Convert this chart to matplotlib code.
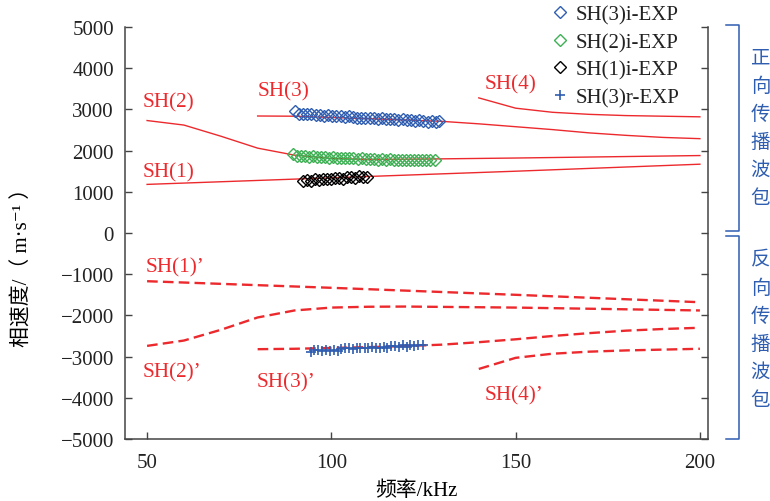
import matplotlib
matplotlib.use('Agg')
import matplotlib.pyplot as plt
import matplotlib.transforms as mtransforms

plt.rcParams['font.family'] = ['Liberation Serif', 'Noto Sans CJK SC', 'DejaVu Serif']
plt.rcParams['font.size'] = 15

# theoretical dispersion curves, forward (solid) and backward (dashed)
sh1_f = [50, 100, 150, 200]
sh1_v = [1180, 1340, 1500, 1670]
sh2_f = [50, 60, 70, 80, 90, 100, 110, 120, 150, 200]
sh2_v = [2730, 2620, 2350, 2060, 1890, 1810, 1785, 1790, 1820, 1880]
sh3_f = [80, 90, 100, 110, 120, 130, 140, 150, 160, 170, 180, 190, 200]
sh3_v = [2840, 2835, 2805, 2775, 2745, 2710, 2650, 2580, 2510, 2430, 2370, 2320, 2290]
sh4_f = [140, 150, 160, 170, 180, 190, 200]
sh4_v = [3280, 3030, 2930, 2880, 2850, 2835, 2820]

sh1b_f = [50, 100, 150, 200]
sh1b_v = [-1170, -1330, -1500, -1680]
sh2b_f = [50, 60, 70, 80, 90, 100, 110, 120, 150, 200]
sh2b_v = [-2740, -2610, -2350, -2050, -1880, -1810, -1790, -1785, -1810, -1880]
sh3b_f = [80, 90, 100, 110, 120, 130, 140, 150, 160, 170, 180, 190, 200]
sh3b_v = [-2820, -2810, -2790, -2770, -2745, -2710, -2650, -2580, -2500, -2430, -2370, -2330, -2300]
sh4b_f = [140, 150, 160, 170, 180, 190, 200]
sh4b_v = [-3300, -3030, -2930, -2880, -2850, -2830, -2810]

# experimental points
exp3i_f = [90, 91.2, 92.3, 93.5, 94.6, 95.7, 96.8, 98, 99.1, 100.2, 101.3, 102.5,
           103.6, 104.7, 105.8, 107, 108.1, 109.2, 110.4, 111.5, 112.6, 113.7, 114.9,
           116, 117.1, 118.2, 119.4, 120.5, 121.6, 122.7, 123.9, 125, 126.1, 127.2,
           128.4, 129.3]
exp3i_v = [2950, 2900, 2890, 2880, 2890, 2870, 2860, 2850, 2860, 2840, 2830, 2830,
           2820, 2830, 2810, 2800, 2800, 2790, 2800, 2780, 2770, 2780, 2760, 2770,
           2760, 2750, 2760, 2740, 2750, 2730, 2740, 2720, 2700, 2710, 2700, 2710]
exp2i_f = [89.5, 90.6, 91.7, 92.8, 93.9, 95, 96.1, 97.2, 98.3, 99.4, 100.5, 101.6,
           102.7, 103.8, 104.9, 106, 107.1, 108.2, 109.3, 110.4, 111.5, 112.6, 113.7,
           114.8, 115.9, 117, 118.1, 119.2, 120.3, 121.4, 122.5, 123.6, 124.7, 125.8,
           126.9, 128]
exp2i_v = [1920, 1870, 1860, 1870, 1850, 1860, 1850, 1840, 1850, 1830, 1840, 1820,
           1830, 1810, 1820, 1810, 1800, 1810, 1790, 1800, 1790, 1780, 1790, 1780,
           1790, 1770, 1780, 1780, 1770, 1780, 1770, 1780, 1770, 1760, 1770, 1770]
exp1i_f = [92.2, 93.3, 94.4, 95.5, 96.6, 97.7, 98.8, 99.9, 101, 102.1, 103.2, 104.3,
           105.4, 106.5, 107.6, 108.7, 109.8]
exp1i_v = [1260, 1280, 1270, 1300, 1290, 1310, 1320, 1300, 1330, 1340, 1320, 1350,
           1370, 1340, 1380, 1360, 1370]
exp3r_f = [94.4, 95.4, 96.5, 97.5, 98.6, 99.6, 100.6, 101.7, 102.7, 103.8, 104.8,
           105.8, 106.9, 107.9, 109, 110, 111, 112.1, 113.1, 114.2, 115.2, 116.2,
           117.3, 118.3, 119.4, 120.4, 121.4, 122.5, 123.5, 124.8]
exp3r_v = [-2880, -2850, -2830, -2860, -2830, -2870, -2840, -2870, -2820, -2800,
           -2790, -2810, -2780, -2800, -2790, -2790, -2770, -2800, -2790, -2760,
           -2780, -2740, -2750, -2760, -2730, -2770, -2720, -2740, -2710, -2720]

red = '#ec2a2e'
blue = '#2f5eb0'
green = '#3db054'

fig = plt.figure(figsize=(7.7, 5.02), dpi=100)
ax = fig.add_axes([0.1623, 0.1235, 0.7572, 0.8207])

for f, v in [(sh1_f, sh1_v), (sh2_f, sh2_v), (sh3_f, sh3_v), (sh4_f, sh4_v)]:
    ax.plot(f, v, color=red, lw=1.0)
for f, v in [(sh1b_f, sh1b_v), (sh2b_f, sh2b_v), (sh3b_f, sh3b_v), (sh4b_f, sh4b_v)]:
    ax.plot(f, v, color=red, lw=1.7, dashes=(4.5, 2.2))

ax.plot(exp3i_f, exp3i_v, 'D', ms=6.3, mfc='none', mec=blue, mew=1.0, label='SH(3)i-EXP')
ax.plot(exp2i_f, exp2i_v, 'D', ms=6.3, mfc='none', mec=green, mew=1.0, label='SH(2)i-EXP')
ax.plot(exp1i_f, exp1i_v, 'D', ms=6.3, mfc='none', mec='black', mew=1.0, label='SH(1)i-EXP')
ax.plot(exp3r_f, exp3r_v, '+', ms=7, mec=blue, mew=1.2, label='SH(3)r-EXP')

# curve names
labels = [('SH(2)', 48.9, 3180), ('SH(3)', 80, 3450), ('SH(1)', 48.9, 1480),
          ('SH(4)', 141.7, 3620), ('SH(1)’', 49.5, -820), ('SH(2)’', 48.9, -3380),
          ('SH(3)’', 79.6, -3610), ('SH(4)’', 141.7, -3940)]
for txt, x, y in labels:
    ax.text(x, y, txt, color=red, fontsize=15.3, ha='left', va='center')

ax.set_xlim(44, 202.2)
ax.set_ylim(-5000, 5000)
ax.set_xticks([50, 100, 150, 200])
ax.set_yticks(range(-5000, 5001, 1000))
ax.spines['top'].set_visible(False)
for s in ['left', 'right', 'bottom']:
    ax.spines[s].set_color('#444444')
    ax.spines[s].set_linewidth(1.1)
ax.tick_params(direction='in', length=5, width=1.0, color='#444444',
               left=True, right=True, labelsize=15, colors='#222222')
ax.tick_params(axis='x', pad=10)
ax.tick_params(axis='y', pad=8)
ax.set_xlabel('频率/kHz', fontsize=15, labelpad=6)
ax.set_ylabel('相速度/（ m·s⁻¹ ）', fontsize=15)
ax.yaxis.set_label_coords(-0.158, 0.43)

leg = ax.legend(loc='upper left', bbox_to_anchor=(0.736, 1.053), frameon=False,
                handlelength=0.6, handletextpad=0.45, labelspacing=0.38,
                borderaxespad=0, borderpad=0, fontsize=15)
for t in leg.get_texts():
    t.set_color('#222222')

# brackets for forward / backward wave packets
trans = mtransforms.blended_transform_factory(ax.transAxes, ax.transData)
bx0, bx1 = 1.031, 1.053
for y0, y1 in [(5050, 60), (-70, -5000)]:
    ax.plot([bx0, bx1, bx1, bx0], [y0, y0, y1, y1], color=blue, lw=1.1,
            transform=trans, clip_on=False)
for chars, ytop in [('正向传播波包', 4250), ('反向传播波包', -650)]:
    for i, c in enumerate(chars):
        ax.text(1.09, ytop - i * 680, c, color=blue, fontsize=14,
                ha='center', va='center', transform=trans, clip_on=False)

fig.savefig('out.png', dpi=100)
